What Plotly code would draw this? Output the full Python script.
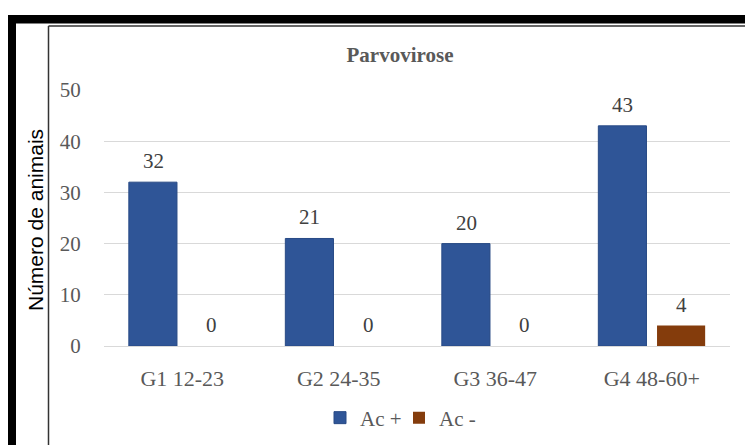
import plotly.graph_objects as go

# Parvovirose serology by age group
categories = ["G1 12-23", "G2 24-35", "G3 36-47", "G4 48-60+"]
ac_pos = [32, 21, 20, 43]
ac_neg = [0, 0, 0, 4]
series_names = ["Ac +", "Ac -"]
y_ticks = [0, 10, 20, 30, 40, 50]

W, H = 745, 445
L, R, T, B = 104, 15, 90, 99
PW, PH = W - L - R, H - T - B

def px(x):
    return (x - L) / PW

def py(y):
    return (H - B - y) / PH

serif = "Liberation Serif, Times New Roman, serif"
grey = "#595959"
label_col = "#404040"

fig = go.Figure()
fig.add_bar(
    x=categories, y=ac_pos, name=series_names[0],
    marker=dict(color="#2F5597", line=dict(color="#284A85", width=1)),
)
fig.add_bar(
    x=categories, y=ac_neg, name=series_names[1],
    marker=dict(color="#843C0C", line=dict(width=0)),
)

# value labels above each bar (half a bar slot left/right of the category centre)
slot_shift = 29.25
annotations = []
for series, shift in ((ac_pos, -slot_shift), (ac_neg, slot_shift)):
    for cat, val in zip(categories, series):
        annotations.append(dict(
            x=cat, y=val, xref="x", yref="y", text=str(val), showarrow=False,
            xanchor="center", yanchor="bottom", xshift=shift, yshift=7,
            font=dict(family=serif, size=21, color=label_col)))

annotations.append(dict(
    text="Número de animais", xref="paper", yref="paper",
    x=px(35), y=py(220), xanchor="center", yanchor="middle",
    textangle=-90, showarrow=False,
    font=dict(family="Liberation Sans, Arial, sans-serif", size=21, color="black")))

shapes = [
    # heavy black frame (top and left)
    dict(type="rect", xref="paper", yref="paper", x0=px(8), x1=px(760),
         y0=py(15), y1=py(23.5), fillcolor="black", line=dict(width=0), layer="above"),
    dict(type="rect", xref="paper", yref="paper", x0=px(8), x1=px(16),
         y0=py(15), y1=py(460), fillcolor="black", line=dict(width=0), layer="above"),
    # thin inner frame
    dict(type="line", xref="paper", yref="paper", x0=px(48.5), x1=px(760),
         y0=py(26), y1=py(26), line=dict(color="#333333", width=1.5), layer="above"),
    dict(type="line", xref="paper", yref="paper", x0=px(48.5), x1=px(48.5),
         y0=py(26), y1=py(460), line=dict(color="#333333", width=1.5), layer="above"),
]

fig.update_layout(
    width=W, height=H,
    margin=dict(l=L, r=R, t=T, b=B, autoexpand=False),
    paper_bgcolor="white", plot_bgcolor="white",
    barmode="group", bargap=0.25, bargroupgap=0.18,
    title=dict(text="<b>Parvovirose</b>", x=px(400), xref="paper", xanchor="center",
               y=1 - 55 / H, yanchor="middle",
               font=dict(family=serif, size=21, color=grey)),
    font=dict(family=serif, size=21, color=grey),
    showlegend=True,
    legend=dict(orientation="h", x=px(320), xanchor="left", y=py(418), yanchor="middle",
                font=dict(family=serif, size=21, color=grey),
                entrywidth=34, entrywidthmode="pixels",
                bgcolor="rgba(0,0,0,0)"),
    shapes=shapes,
    annotations=annotations,
)
fig.update_yaxes(range=[0, 50], tickvals=y_ticks, showgrid=True, gridcolor="#D9D9D9",
                 gridwidth=1, zeroline=False, showline=False,
                 ticks="outside", ticklen=18, tickcolor="rgba(0,0,0,0)",
                 tickfont=dict(family=serif, size=21, color=grey))
fig.update_xaxes(showline=True, linecolor="#D9D9D9", linewidth=1,
                 ticks="outside", ticklen=13, tickcolor="rgba(0,0,0,0)",
                 tickfont=dict(family=serif, size=22, color=grey))

fig.write_html("out.html")
